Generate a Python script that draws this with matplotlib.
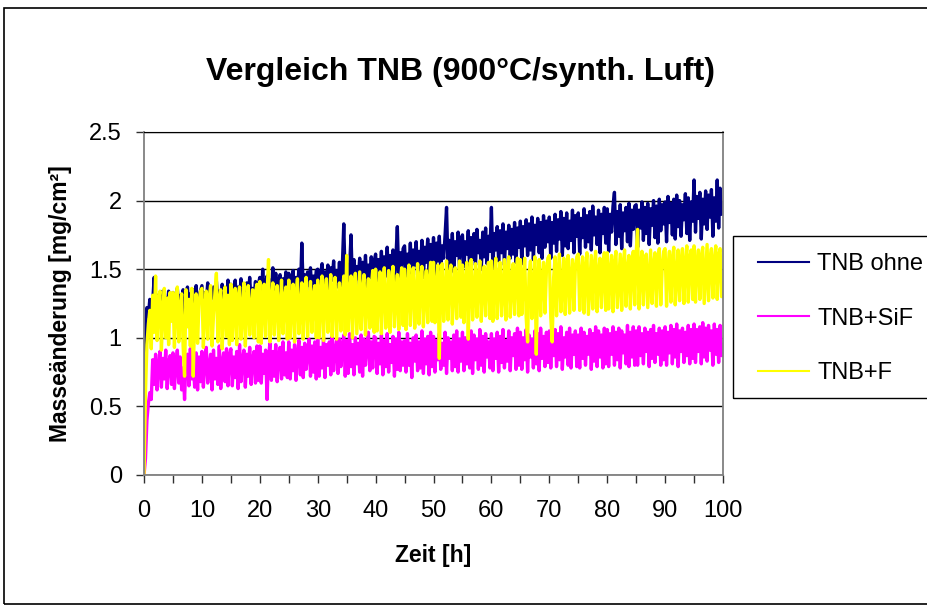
import matplotlib
matplotlib.use("Agg")
import matplotlib.pyplot as plt
from matplotlib.ticker import MultipleLocator
from matplotlib.patches import Rectangle
import numpy as np

plt.rcParams['font.family'] = ['Liberation Sans', 'DejaVu Sans']

tnb_ohne = [
    45, 108, 122, 116, 128, 112, 126, 144, 120, 131, 115, 132, 118, 134, 113, 129, 122, 134, 117, 130,
    133, 116, 127, 136, 119, 131, 121, 135, 114, 128, 137, 120, 132, 117, 135, 124, 138, 119, 130, 134,
    138, 121, 133, 126, 140, 118, 135, 129, 137, 122, 141, 125, 134, 120, 139, 127, 136, 123, 142, 128,
    139, 124, 135, 142, 122, 137, 128, 143, 126, 138, 121, 140, 129, 144, 125, 136, 130, 141, 123, 139,
    144, 126, 150, 131, 139, 145, 127, 142, 133, 151, 125, 147, 130, 141, 146, 128, 143, 135, 148, 129,
    147, 132, 141, 149, 127, 144, 136, 150, 130, 169, 134, 146, 129, 148, 138, 151, 131, 145, 137, 149,
    150, 131, 146, 154, 135, 148, 139, 153, 130, 151, 142, 156, 133, 149, 137, 155, 134, 152, 183, 140,
    154, 133, 150, 175, 138, 157, 136, 152, 143, 158, 135, 155, 141, 160, 137, 153, 144, 159, 139, 156,
    161, 140, 157, 147, 163, 138, 159, 145, 166, 142, 160, 149, 164, 141, 158, 181, 143, 162, 148, 165,
    167, 145, 161, 151, 169, 142, 164, 153, 170, 146, 163, 150, 171, 144, 166, 155, 172, 147, 168, 152,
    173, 146, 169, 156, 174, 149, 167, 158, 175, 195, 151, 171, 154, 176, 148, 170, 160, 177, 150, 172,
    175, 152, 170, 161, 178, 148, 173, 157, 176, 153, 179, 162, 171, 150, 177, 159, 180, 154, 174, 163,
    195, 151, 176, 164, 181, 156, 178, 162, 183, 153, 177, 165, 182, 158, 179, 161, 184, 155, 180, 166,
    185, 154, 181, 167, 186, 160, 183, 164, 188, 157, 182, 168, 187, 162, 184, 158, 189, 166, 185, 170,
    188, 158, 184, 169, 190, 163, 186, 172, 192, 160, 187, 167, 191, 165, 185, 171, 193, 162, 189, 174,
    191, 161, 187, 173, 194, 166, 189, 170, 192, 164, 196, 175, 188, 168, 193, 162, 190, 176, 195, 169,
    194, 163, 190, 177, 196, 206, 168, 192, 174, 197, 165, 191, 178, 195, 170, 198, 167, 193, 179, 196,
    197, 166, 193, 180, 199, 171, 195, 176, 198, 168, 194, 182, 200, 173, 196, 169, 201, 178, 197, 183,
    199, 170, 203, 184, 198, 175, 201, 172, 204, 181, 200, 174, 197, 186, 205, 176, 202, 171, 199, 185,
    215, 177, 203, 187, 206, 172, 201, 183, 207, 179, 204, 188, 208, 174, 202, 185, 215, 180, 209, 190,
    198,
]
tnb_sif = [
    0, 12, 40, 52, 60, 55, 84, 66, 88, 62, 79, 90, 64, 85, 70, 91, 63, 82, 87, 66,
    89, 63, 80, 91, 67, 86, 62, 78, 55, 84, 88, 65, 92, 70, 81, 64, 89, 62, 86, 68,
    90, 64, 83, 93, 67, 79, 88, 62, 91, 70, 85, 66, 94, 63, 82, 89, 68, 92, 65, 87,
    92, 65, 86, 71, 90, 63, 95, 68, 84, 91, 64, 88, 72, 93, 66, 85, 90, 67, 94, 69,
    94, 67, 88, 74, 91, 55, 86, 96, 69, 90, 72, 95, 68, 87, 93, 70, 97, 73, 89, 71,
    97, 70, 91, 76, 95, 69, 88, 98, 73, 93, 71, 96, 77, 90, 99, 72, 94, 75, 97, 70,
    99, 72, 93, 78, 100, 71, 95, 80, 97, 73, 101, 76, 92, 98, 74, 99, 79, 94, 102, 72,
    98, 74, 103, 79, 95, 73, 100, 81, 96, 75, 102, 72, 99, 80, 94, 104, 76, 97, 78, 101,
    100, 74, 96, 81, 102, 73, 98, 79, 103, 75, 95, 82, 101, 72, 99, 77, 104, 76, 97, 80,
    98, 75, 103, 80, 96, 71, 100, 83, 102, 76, 97, 78, 105, 74, 99, 81, 101, 73, 104, 79,
    101, 75, 98, 84, 103, 77, 96, 80, 104, 74, 100, 85, 97, 76, 102, 79, 105, 75, 99, 83,
    104, 76, 100, 81, 98, 78, 105, 74, 102, 84, 99, 77, 106, 80, 101, 75, 103, 86, 97, 78,
    103, 76, 99, 85, 104, 75, 101, 82, 106, 78, 98, 83, 105, 76, 100, 87, 103, 77, 107, 80,
    104, 77, 100, 84, 106, 75, 102, 86, 99, 78, 105, 81, 103, 76, 107, 85, 101, 79, 104, 82,
    105, 78, 101, 87, 106, 79, 103, 84, 108, 77, 100, 86, 104, 80, 107, 78, 102, 88, 105, 79,
    102, 78, 107, 85, 104, 80, 101, 88, 106, 77, 103, 83, 108, 79, 105, 86, 102, 78, 107, 81,
    106, 79, 103, 88, 108, 80, 104, 84, 107, 78, 105, 89, 102, 81, 109, 79, 104, 86, 108, 80,
    105, 80, 108, 87, 103, 81, 107, 90, 104, 79, 106, 85, 109, 82, 103, 88, 107, 80, 105, 84,
    108, 80, 104, 89, 109, 81, 106, 86, 110, 79, 105, 90, 107, 82, 104, 87, 109, 81, 106, 85,
    110, 82, 106, 90, 108, 81, 111, 86, 107, 83, 109, 91, 105, 80, 110, 88, 106, 82, 109, 87,
    95,
]
tnb_f = [
    0, 60, 95, 110, 120, 92, 131, 104, 145, 98, 127, 134, 91, 118, 136, 100, 129, 95, 133, 112,
    133, 93, 125, 137, 97, 121, 132, 94, 72, 135, 108, 128, 94, 136, 72, 117, 132, 96, 126, 134,
    136, 93, 122, 134, 99, 129, 138, 94, 116, 133, 147, 97, 127, 135, 92, 120, 137, 101, 131, 95,
    139, 98, 124, 136, 95, 130, 137, 99, 118, 140, 94, 127, 138, 102, 121, 135, 100, 133, 139, 97,
    141, 96, 126, 139, 101, 132, 157, 97, 123, 140, 102, 130, 138, 98, 119, 142, 103, 128, 137, 99,
    142, 100, 127, 139, 97, 131, 143, 103, 120, 140, 99, 134, 144, 101, 125, 141, 104, 130, 138, 100,
    142, 100, 129, 145, 98, 133, 143, 104, 122, 146, 101, 135, 144, 99, 127, 140, 105, 131, 145, 102,
    160, 105, 130, 145, 100, 136, 147, 103, 125, 148, 106, 134, 146, 102, 128, 143, 107, 137, 149, 104,
    150, 105, 132, 148, 103, 138, 151, 107, 126, 149, 104, 140, 152, 108, 130, 146, 106, 139, 151, 109,
    150, 106, 134, 153, 109, 141, 151, 107, 128, 154, 110, 143, 152, 108, 133, 149, 111, 140, 155, 112,
    155, 111, 136, 153, 85, 143, 154, 112, 130, 156, 113, 145, 153, 110, 137, 151, 114, 142, 156, 115,
    153, 111, 138, 155, 99, 146, 157, 113, 132, 154, 115, 144, 156, 112, 139, 152, 116, 147, 155, 114,
    156, 112, 140, 158, 114, 145, 155, 116, 134, 157, 113, 148, 159, 115, 141, 154, 117, 146, 158, 116,
    157, 117, 142, 158, 115, 97, 147, 156, 114, 135, 159, 88, 146, 157, 116, 143, 155, 118, 149, 158,
    160, 115, 97, 144, 159, 116, 148, 161, 119, 137, 158, 117, 150, 160, 118, 145, 157, 120, 151, 159,
    161, 120, 146, 159, 118, 150, 162, 117, 139, 160, 121, 152, 163, 119, 147, 158, 122, 151, 162, 120,
    162, 121, 148, 160, 119, 153, 163, 122, 141, 161, 120, 154, 164, 123, 149, 160, 121, 152, 163, 124,
    162, 179, 121, 150, 163, 124, 155, 161, 122, 143, 164, 125, 153, 162, 123, 156, 165, 124, 151, 163,
    165, 123, 152, 163, 126, 157, 166, 124, 145, 164, 127, 156, 165, 125, 153, 167, 126, 158, 164, 128,
    167, 126, 154, 164, 128, 159, 166, 125, 147, 168, 127, 157, 165, 129, 155, 167, 128, 160, 165, 130,
    140,
]

serien = [
    ("TNB ohne", tnb_ohne, "#000080"),
    ("TNB+SiF", tnb_sif, "#FF00FF"),
    ("TNB+F", tnb_f, "#FFFF00"),
]

fig = plt.figure(figsize=(9.28, 6.08), dpi=100)

# Rahmen um das ganze Diagramm
fig.patches.append(Rectangle((0.004, 0.006), 1.2, 0.981, transform=fig.transFigure,
                             fill=False, edgecolor="black", linewidth=1.2))

ax = fig.add_axes([0.1552, 0.2188, 0.6239, 0.5641])

for name, werte, farbe in serien:
    y = np.array(werte) / 100.0
    t = np.linspace(0, 100, len(y))
    ax.plot(t, y, color=farbe, linewidth=2.4, label=name)

ax.set_xlim(0, 100)
ax.set_ylim(0, 2.5)
ax.xaxis.set_major_locator(MultipleLocator(10))
ax.xaxis.set_minor_locator(MultipleLocator(5))
ax.set_yticks([0, 0.5, 1, 1.5, 2, 2.5])
ax.set_yticklabels(["0", "0.5", "1", "1.5", "2", "2.5"])

ax.grid(axis="y", color="black", linewidth=1)
ax.set_axisbelow(True)
for s in ["left", "bottom", "right"]:
    ax.spines[s].set_color("#808080")
    ax.spines[s].set_linewidth(1.3)
ax.spines["top"].set_color("black")

ax.tick_params(axis="both", which="both", direction="out", length=6, width=1,
               color="#303030", labelsize=17)
ax.tick_params(axis="x", pad=12)
ax.tick_params(axis="y", pad=10)

ax.set_xlabel("Zeit [h]", fontsize=16.5, fontweight="bold", va="center")
ax.xaxis.set_label_coords(0.5, -0.236)
ax.set_ylabel("Masseänderung [mg/cm²]", fontsize=16.5, fontweight="bold", va="center")
ax.yaxis.set_label_coords(-0.145, 0.5)

fig.text(0.496, 0.882, "Vergleich TNB (900°C/synth. Luft)", ha="center", va="center",
         fontsize=23, fontweight="bold")

# Legende: Kasten rechts, ragt über den Rand hinaus
fig.patches.append(Rectangle((733 / 928, 1 - 398 / 608), 0.3, 162 / 608,
                             transform=fig.transFigure, fill=False,
                             edgecolor="black", linewidth=1))
leg = fig.legend(loc="upper left", bbox_to_anchor=(758 / 928, 1 - 253 / 608), fontsize=17,
                 frameon=False, borderpad=0, labelspacing=1.38, handlelength=2.15,
                 handletextpad=0.35, borderaxespad=0)
for h in leg.get_lines():
    h.set_linewidth(1.5)

fig.savefig("out.png", dpi=100)
